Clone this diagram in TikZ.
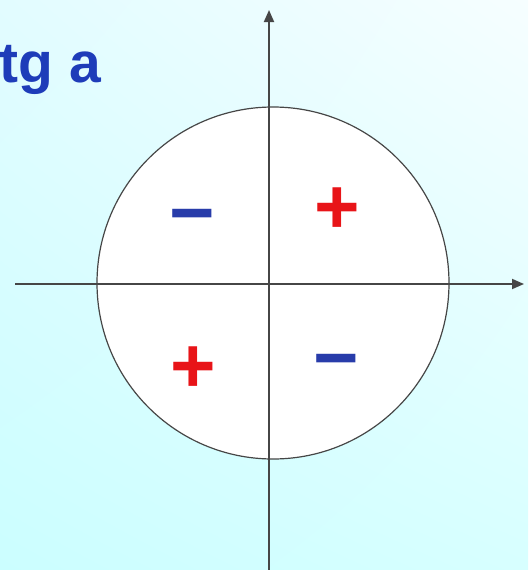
\documentclass[tikz,border=0pt]{standalone}
\usepackage{fontspec}
\setmainfont{Liberation Sans}
\definecolor{bgLL}{RGB}{203,254,255}
\definecolor{bgUR}{RGB}{246,254,255}
\definecolor{bgLR}{RGB}{215,255,255}
\definecolor{bgUL}{RGB}{226,252,255}
\definecolor{axisgray}{RGB}{70,70,70}
\definecolor{signblue}{RGB}{40,60,170}
\definecolor{signred}{RGB}{232,20,24}
\definecolor{titleblue}{RGB}{30,60,185}
\usetikzlibrary{arrows.meta,shadings}
\tikzset{
  axisline/.style={line width=1.8pt, draw=axisgray, -{Triangle[length=12pt,width=10pt]}},
  signtext/.style={inner sep=0pt, font=\bfseries\fontsize{78}{78}\selectfont},
}
\begin{document}
\begin{tikzpicture}[x=1pt,y=-1pt]
\useasboundingbox (0,0) rectangle (528,570);
\shade[lower left=bgLL, upper right=bgUR, lower right=bgLR, upper left=bgUL] (0,0) rectangle (528,570);
\node[anchor=base east, inner sep=0pt, text=titleblue, font=\bfseries\fontsize{57}{57}\selectfont] (title) at (101,82) {tg a};
\node[circle, draw=axisgray, line width=1.2pt, fill=white, minimum size=352pt, inner sep=0pt] (circ) at (273,283) {};
\coordinate (xs) at (15,284);
\coordinate (xe) at (524,284);
\coordinate (ys) at (269,570);
\coordinate (ye) at (269,10);
\draw[axisline] (xs) -- (xe);
\draw[axisline] (ys) -- (ye);
\node[signtext, text=signblue] (m1) at (192,224) {−};
\node[signtext, text=signred] (p1) at (337,211) {+};
\node[signtext, text=signred] (p2) at (193,370) {+};
\node[signtext, text=signblue] (m2) at (336,369) {−};
\end{tikzpicture}
\end{document}
